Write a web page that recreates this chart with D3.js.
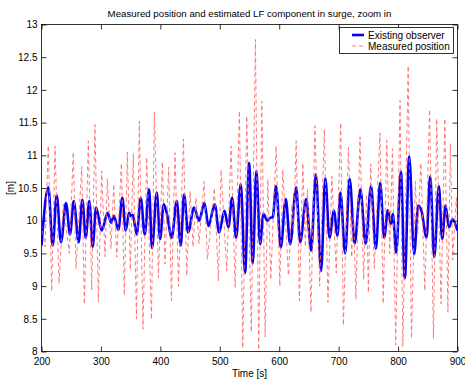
<!DOCTYPE html>
<html>
<head>
<meta charset="utf-8">
<script src="https://cdn.jsdelivr.net/npm/d3@7"></script>
<style>
  html, body { margin: 0; padding: 0; background: #fff; }
  svg { display: block; font-family: "Liberation Sans", Arial, Helvetica, sans-serif; }
</style>
</head>
<body>
<svg id="chart" width="465" height="381"></svg>
<script>
// ---- data ----
const title = "Measured position and estimated LF component in surge, zoom in";
const xLabel = "Time [s]";
const yLabel = "[m]";
const seriesNames = ["Existing observer", "Measured position"];
const xTicks = [200, 300, 400, 500, 600, 700, 800, 900];
const yTicks = [8, 8.5, 9, 9.5, 10, 10.5, 11, 11.5, 12, 12.5, 13];

// Existing observer (estimated LF position) : [time, value] at turning points
const observerT = [200, 211.5, 218.8, 225.5, 232.8, 241.2, 248, 254.2, 262.6, 268.7, 274.4, 280.5, 286.1, 291.8, 301.3, 311.4, 317, 322, 329.3, 336, 341.7, 347.3, 350.7, 353.5, 360.2, 367, 373.7, 381, 386, 393.9, 399.5, 405.7, 410.7, 419.1, 427.6, 434.3, 439.9, 446.6, 456.7, 465.2, 474.1, 480.9, 491.5, 498.8, 507.8, 514.5, 520.7, 527.4, 535.3, 542.5, 549.3, 555.5, 561.5, 567.8, 573.4, 580.2, 585.8, 589, 594.8, 602.6, 611, 618.4, 628.5, 635.2, 645.3, 653.7, 661.6, 670.5, 677.5, 684.6, 692, 698, 703, 711, 718.5, 727, 736.5, 745.5, 754.5, 762.6, 769.9, 776.6, 782.8, 787.8, 791.2, 796.8, 804.7, 811.4, 818.7, 827.1, 833.8, 839.4, 847.9, 854, 860.8, 868.6, 874.2, 879.8, 885.5, 891.6, 900];
const observerV = [9.62, 10.51, 9.62, 10.39, 9.67, 10.27, 9.79, 10.30, 9.67, 10.32, 9.74, 10.30, 9.60, 10.20, 9.85, 10.12, 9.97, 10.07, 9.86, 10.35, 9.85, 10.12, 10.07, 10.09, 9.79, 10.35, 9.79, 10.48, 9.58, 10.43, 9.72, 10.25, 10.12, 9.74, 10.30, 9.62, 10.40, 9.82, 10.20, 10.0, 10.27, 9.92, 10.25, 9.82, 10.15, 9.9, 10.35, 9.74, 10.56, 9.2, 10.88, 9.35, 10.76, 9.64, 10.1, 10.0, 10.05, 10.05, 10.53, 9.59, 10.33, 9.64, 10.51, 9.67, 10.33, 9.54, 10.71, 9.23, 10.65, 9.74, 10.15, 9.77, 10.43, 9.5, 10.64, 9.65, 10.48, 9.65, 10.53, 9.57, 10.58, 9.74, 10.16, 9.95, 10.1, 9.51, 10.75, 9.12, 10.98, 9.49, 10.23, 10.15, 9.74, 10.68, 9.44, 10.53, 9.72, 10.23, 9.9, 10.02, 9.85];

// Measured position : [time, value] at turning points
const measuredT = [200, 205.9, 211.4, 217.2, 222.7, 229.5, 236.6, 246.8, 253.5, 258.1, 267.7, 272.1, 278.8, 284.5, 290, 295.6, 301.3, 306.9, 310.8, 317, 321.5, 326.6, 334.5, 339.4, 344.4, 349.5, 354.5, 359.8, 364.6, 370.8, 377, 385, 390, 396.7, 403.4, 407.9, 414, 418.6, 424.7, 430.5, 438.8, 444.4, 450, 455, 460, 465, 473.6, 479.2, 491, 497.7, 502.2, 511.7, 519, 525.8, 533, 538.7, 545.4, 553, 560, 565.5, 570.7, 576.3, 580.8, 585.8, 594.8, 601, 606, 615.5, 621.2, 624, 628.5, 634, 639.7, 644, 647.5, 653.5, 660, 668, 676, 682, 688.5, 696, 703.5, 708, 716.5, 722, 725, 729, 736, 742, 747, 750, 754, 760, 769.5, 775, 781, 786, 790.5, 796, 803.3, 808, 817, 822.5, 829, 833, 838.4, 845, 853, 859.5, 865, 872.3, 878.7, 883.8, 888, 892, 898, 900];
const measuredV = [9.95, 9.6, 11.15, 8.92, 11.14, 9.04, 10.25, 9.5, 11.05, 9.27, 10.83, 8.72, 11.22, 8.94, 11.47, 8.76, 10.76, 9.45, 10.64, 9.57, 10.56, 9.44, 10.88, 8.86, 11.05, 9.25, 11.03, 8.5, 11.52, 8.34, 10.97, 8.49, 11.66, 9.13, 10.9, 9.34, 10.82, 8.78, 11.04, 9.0, 11.25, 9.16, 10.45, 9.6, 10.35, 9.65, 10.6, 9.41, 10.5, 9.08, 10.78, 9.23, 11.14, 8.98, 11.68, 8.05, 11.6, 8.3, 12.77, 7.97, 11.83, 8.22, 10.63, 9.1, 11.14, 9.0, 10.78, 9.16, 10.25, 9.8, 11.22, 8.78, 10.88, 9.6, 10.48, 8.6, 11.45, 9.0, 11.4, 8.75, 10.68, 9.2, 11.5, 8.4, 11.12, 9.44, 10.2, 8.8, 11.28, 9.1, 10.4, 8.9, 10.87, 9.27, 11.34, 8.73, 11.23, 9.5, 11.1, 8.1, 11.84, 8.07, 12.37, 8.2, 10.6, 9.8, 10.88, 8.93, 11.7, 8.2, 11.56, 8.73, 11.56, 8.6, 11.18, 9.4, 10.35, 10.0];

// ---- layout ----
const svg = d3.select("#chart");
const W = 465, H = 381;
const L = 41.5, R = 457.5, T = 24.5, B = 351.5;

const x = d3.scaleLinear().domain([200, 900]).range([L, R]);
const y = d3.scaleLinear().domain([8, 13]).range([B, T]);

svg.append("rect").attr("width", W).attr("height", H).attr("fill", "#fff");

svg.append("defs").append("clipPath").attr("id", "clip")
  .append("rect").attr("x", L).attr("y", T).attr("width", R - L).attr("height", B - T);

const observer = observerT.map((t, i) => [t, observerV[i]]);
const measured = measuredT.map((t, i) => [t, measuredV[i]]);

const plot = svg.append("g").attr("clip-path", "url(#clip)");

const lineSmooth = d3.line().x(d => x(d[0])).y(d => y(d[1])).curve(d3.curveMonotoneX);
const lineRaw = d3.line().x(d => x(d[0])).y(d => y(d[1])).curve(d3.curveLinear);

plot.append("path").datum(observer)
  .attr("d", lineSmooth)
  .attr("fill", "none").attr("stroke", "#0000ff").attr("stroke-width", 2.6)
  .attr("stroke-linejoin", "round");

plot.append("path").datum(measured)
  .attr("d", lineRaw)
  .attr("fill", "none").attr("stroke", "#ff6a6a").attr("stroke-width", 0.9)
  .attr("stroke-dasharray", "4,3");

// ---- axes ----
const fmt = d3.format("~g");
const axisColor = "#000";

function styleAxis(g) {
  g.select(".domain").remove();
  g.selectAll(".tick line").attr("stroke", axisColor).attr("stroke-width", 0.8);
  g.selectAll(".tick text").attr("fill", "#000").attr("font-size", 10)
    .attr("font-family", "'Liberation Sans', Arial, sans-serif");
}

svg.append("g").attr("transform", `translate(0,${B})`)
  .call(d3.axisBottom(x).tickValues(xTicks).tickFormat(fmt).tickSizeInner(-5).tickSizeOuter(0).tickPadding(6))
  .call(styleAxis);
svg.append("g").attr("transform", `translate(0,${T})`)
  .call(d3.axisTop(x).tickValues(xTicks).tickFormat("").tickSizeInner(-5).tickSizeOuter(0))
  .call(styleAxis);
svg.append("g").attr("transform", `translate(${L},0)`)
  .call(d3.axisLeft(y).tickValues(yTicks).tickFormat(fmt).tickSizeInner(-5).tickSizeOuter(0).tickPadding(4))
  .call(styleAxis);
svg.append("g").attr("transform", `translate(${R},0)`)
  .call(d3.axisRight(y).tickValues(yTicks).tickFormat("").tickSizeInner(-5).tickSizeOuter(0))
  .call(styleAxis);

svg.append("rect").attr("x", L).attr("y", T).attr("width", R - L).attr("height", B - T)
  .attr("fill", "none").attr("stroke", axisColor).attr("stroke-width", 0.8);

// ---- texts ----
svg.append("text").attr("x", (L + R) / 2).attr("y", 17).attr("text-anchor", "middle")
  .attr("font-size", 9.7).text(title);
svg.append("text").attr("x", (L + R) / 2).attr("y", 377).attr("text-anchor", "middle")
  .attr("font-size", 10).text(xLabel);
svg.append("text").attr("transform", `translate(14,${(T + B) / 2}) rotate(-90)`)
  .attr("text-anchor", "middle").attr("font-size", 10).text(yLabel);

// ---- legend ----
const lg = svg.append("g");
lg.append("rect").attr("x", 339.5).attr("y", 27.5).attr("width", 114).attr("height", 26)
  .attr("fill", "#fff").attr("stroke", "#000").attr("stroke-width", 0.8);
const legendStyles = [
  { stroke: "#0000ff", width: 2.6, dash: null },
  { stroke: "#ff6a6a", width: 0.9, dash: "4,3" }
];
seriesNames.forEach((name, i) => {
  const cy = 35 + i * 11;
  lg.append("line").attr("x1", 352).attr("x2", 364).attr("y1", cy).attr("y2", cy)
    .attr("stroke", legendStyles[i].stroke).attr("stroke-width", legendStyles[i].width)
    .attr("stroke-dasharray", legendStyles[i].dash);
  lg.append("text").attr("x", 368).attr("y", cy + 3.5).attr("font-size", 10).text(name);
});
</script>
</body>
</html>
